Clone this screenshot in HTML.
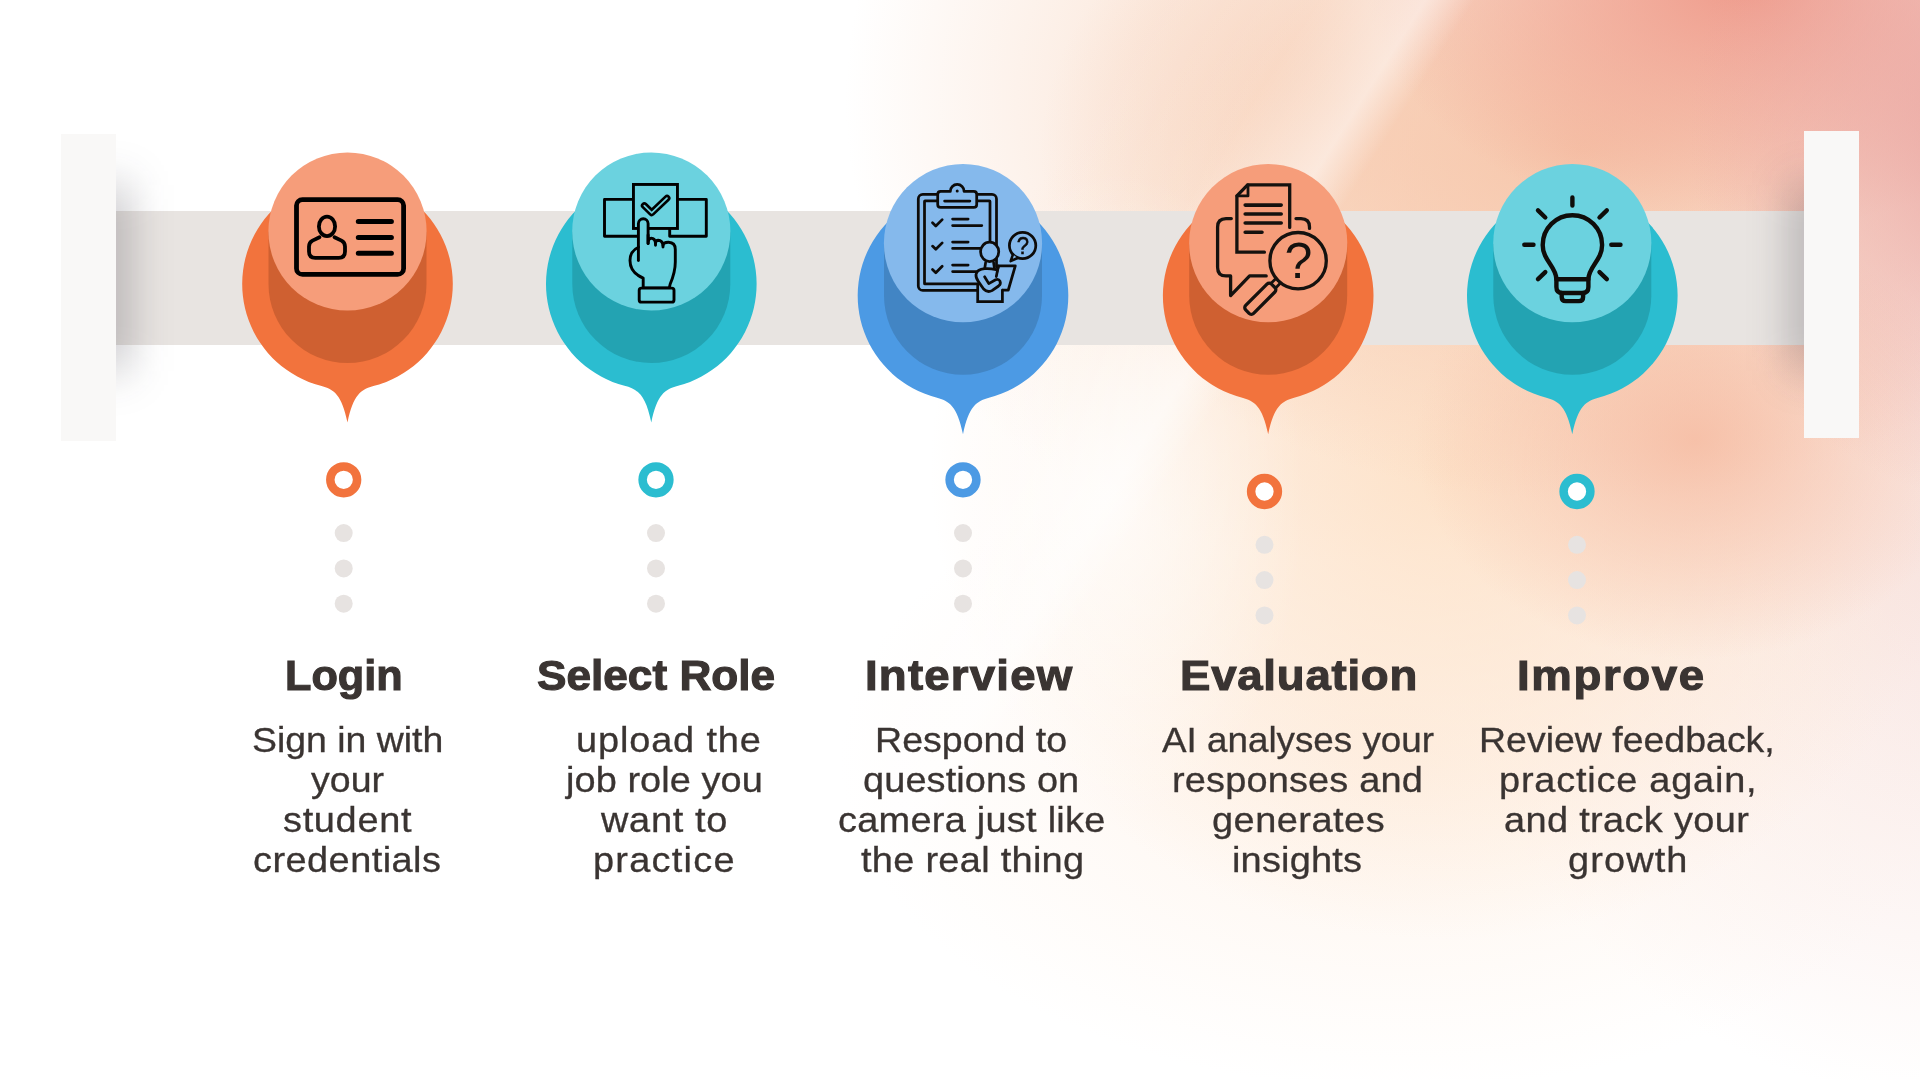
<!DOCTYPE html>
<html lang="en">
<head>
<meta charset="utf-8">
<title>How it works</title>
<style>
html,body{margin:0;padding:0;background:#fff;}
body{width:1920px;height:1080px;overflow:hidden;position:relative;font-family:"Liberation Sans",sans-serif;}
#stage{position:absolute;left:0;top:0;width:1920px;height:1080px;overflow:hidden;background:#fff;}
.bg{position:absolute;left:0;top:0;width:1920px;height:1080px;}
.band{position:absolute;left:116px;top:211px;width:1688px;height:133.5px;background:#e8e4e1;}
.shadow{position:absolute;width:34px;height:186px;top:85px;background:rgba(36,32,44,.31);filter:blur(22px);}
.clip{position:absolute;left:116px;top:100px;width:1688px;height:400px;overflow:hidden;}
.bar{position:absolute;width:55px;background:#f9f8f7;}
svg.art{position:absolute;left:0;top:0;width:1920px;height:1080px;overflow:visible;will-change:transform;}
.t{position:absolute;height:60px;line-height:60px;white-space:nowrap;color:#3a3432;transform-origin:0 50%;margin:0;}
.h{font-size:42.2px;font-weight:700;-webkit-text-stroke:1.1px #3a3432;}
.b{font-size:34.5px;font-weight:400;-webkit-text-stroke:0.3px #3a3432;}
</style>
</head>
<body>
<div id="stage">
<div class="bg" style="background:
linear-gradient(122.6deg, rgba(255,255,255,0) 44%, rgba(255,255,255,.10) 50.5%, rgba(255,255,255,.5) 54.6%, rgba(255,255,255,0) 56.5%),
radial-gradient(ellipse 190px 330px at 1115px 500px, rgba(255,255,255,.62), rgba(255,255,255,0) 100%),
radial-gradient(ellipse 300px 370px at 1990px 130px, rgba(234,165,160,.95), rgba(234,165,160,0) 100%),
radial-gradient(ellipse 380px 250px at 1745px -20px, rgba(238,150,134,.95), rgba(238,150,134,0) 100%),
radial-gradient(ellipse 280px 220px at 1695px 440px, rgba(245,184,158,.8), rgba(245,184,158,0) 100%),
radial-gradient(ellipse 540px 350px at 1580px 150px, rgba(246,196,168,.95), rgba(246,196,168,0) 100%),
radial-gradient(ellipse 520px 470px at 1450px 470px, rgba(253,223,195,.88), rgba(253,223,195,0) 100%),
radial-gradient(ellipse 490px 460px at 1335px 100px, rgba(249,218,198,1), rgba(249,218,198,0) 100%),
radial-gradient(ellipse 560px 330px at 1400px 760px, rgba(254,242,232,.85), rgba(254,242,232,0) 100%),
radial-gradient(ellipse 520px 560px at 1950px 540px, rgba(248,226,222,.95), rgba(248,226,222,0) 100%),
#fff"></div>

<div class="band"></div>
<div class="clip"><div class="shadow" style="left:-24px"></div><div class="shadow" style="left:1678px"></div></div>
<div class="bar" style="left:61px;top:134px;height:307px"></div>
<div class="bar" style="left:1803.7px;top:130.7px;height:307px"></div>
<svg class="art" viewBox="0 0 1920 1080">
<g transform="translate(347.5 284.0)"><path fill="#f2733d" d="M-26.75,101.85 A105.3,105.3 0 1 1 26.75,101.85 C13.5,105.3 5.8,110.5 0,138.6 C-5.8,110.5 -13.5,105.3 -26.75,101.85Z"/><path fill="#cf6031" d="M-79,-52.5 L-79,0 A79,79 0 0 0 79,0 L79,-52.5Z"/><circle cx="0" cy="-52.5" r="79.1" fill="#f69d7a"/></g>
<g transform="translate(651.3 284.0)"><path fill="#2bbdd0" d="M-26.75,101.85 A105.3,105.3 0 1 1 26.75,101.85 C13.5,105.3 5.8,110.5 0,138.6 C-5.8,110.5 -13.5,105.3 -26.75,101.85Z"/><path fill="#23a3b2" d="M-79,-52.5 L-79,0 A79,79 0 0 0 79,0 L79,-52.5Z"/><circle cx="0" cy="-52.5" r="79.1" fill="#6bd2df"/></g>
<g transform="translate(963.0 295.7)"><path fill="#4c9ae4" d="M-26.75,101.85 A105.3,105.3 0 1 1 26.75,101.85 C13.5,105.3 5.8,110.5 0,138.6 C-5.8,110.5 -13.5,105.3 -26.75,101.85Z"/><path fill="#4285c4" d="M-79,-52.5 L-79,0 A79,79 0 0 0 79,0 L79,-52.5Z"/><circle cx="0" cy="-52.5" r="79.1" fill="#85b9ec"/></g>
<g transform="translate(1268.2 295.7)"><path fill="#f2733d" d="M-26.75,101.85 A105.3,105.3 0 1 1 26.75,101.85 C13.5,105.3 5.8,110.5 0,138.6 C-5.8,110.5 -13.5,105.3 -26.75,101.85Z"/><path fill="#cf6031" d="M-79,-52.5 L-79,0 A79,79 0 0 0 79,0 L79,-52.5Z"/><circle cx="0" cy="-52.5" r="79.1" fill="#f69d7a"/></g>
<g transform="translate(1572.3 295.7)"><path fill="#2bbdd0" d="M-26.75,101.85 A105.3,105.3 0 1 1 26.75,101.85 C13.5,105.3 5.8,110.5 0,138.6 C-5.8,110.5 -13.5,105.3 -26.75,101.85Z"/><path fill="#23a3b2" d="M-79,-52.5 L-79,0 A79,79 0 0 0 79,0 L79,-52.5Z"/><circle cx="0" cy="-52.5" r="79.1" fill="#6bd2df"/></g>
<circle cx="343.7" cy="479.8" r="13.4" fill="#fff" stroke="#f2733d" stroke-width="8.5"/>
<circle cx="343.7" cy="533.1" r="9" fill="#e7e3e1"/>
<circle cx="343.7" cy="568.4" r="9" fill="#e7e3e1"/>
<circle cx="343.7" cy="603.7" r="9" fill="#e7e3e1"/>
<circle cx="656.0" cy="479.8" r="13.4" fill="#fff" stroke="#2bbdd0" stroke-width="8.5"/>
<circle cx="656.0" cy="533.1" r="9" fill="#e7e3e1"/>
<circle cx="656.0" cy="568.4" r="9" fill="#e7e3e1"/>
<circle cx="656.0" cy="603.7" r="9" fill="#e7e3e1"/>
<circle cx="963.0" cy="479.8" r="13.4" fill="#fff" stroke="#4c9ae4" stroke-width="8.5"/>
<circle cx="963.0" cy="533.1" r="9" fill="#e7e3e1"/>
<circle cx="963.0" cy="568.4" r="9" fill="#e7e3e1"/>
<circle cx="963.0" cy="603.7" r="9" fill="#e7e3e1"/>
<circle cx="1264.5" cy="491.5" r="13.4" fill="#fff" stroke="#f2733d" stroke-width="8.5"/>
<circle cx="1264.5" cy="544.8" r="9" fill="#e7e3e1"/>
<circle cx="1264.5" cy="580.1" r="9" fill="#e7e3e1"/>
<circle cx="1264.5" cy="615.4" r="9" fill="#e7e3e1"/>
<circle cx="1577.0" cy="491.5" r="13.4" fill="#fff" stroke="#2bbdd0" stroke-width="8.5"/>
<circle cx="1577.0" cy="544.8" r="9" fill="#e7e3e1"/>
<circle cx="1577.0" cy="580.1" r="9" fill="#e7e3e1"/>
<circle cx="1577.0" cy="615.4" r="9" fill="#e7e3e1"/>
<!-- icon 1: id card -->
<g fill="none" stroke="#000" stroke-linecap="round" stroke-linejoin="round">
<rect x="296.5" y="199.6" width="107.1" height="74.8" rx="6" stroke-width="4.8"/>
<ellipse cx="327" cy="226.4" rx="8.1" ry="9.7" stroke-width="3.8"/>
<path stroke-width="3.8" d="M319.5,237.2 L312.5,240.6 Q309,242.4 309,246.6 L309,251.6 Q309,257.9 315.3,257.9 L338.7,257.9 Q345,257.9 345,251.6 L345,246.6 Q345,242.4 341.5,240.6 L334.5,237.2"/>
<path stroke-width="5" d="M358.3,221.5 H391.4 M358.3,237.4 H391.4 M358.3,253.3 H391.4"/>
</g>
<!-- icon 2: select / tap -->
<g fill="none" stroke="#000" stroke-width="2.9" stroke-linejoin="round" stroke-linecap="round">
<path d="M633.4,199.4 H604.5 V236.2 H638"/>
<path d="M677.5,199.4 H706.3 V236.2 H669.7 V229"/>
<rect x="633.45" y="184.45" width="44" height="44" fill="#6bd2df" stroke-linejoin="miter"/>
<path stroke-width="7" d="M644.3,205.6 L651.7,212.8 L667,198.2"/>
<path stroke="#6bd2df" stroke-width="1.7" d="M644.3,205.6 L651.7,212.8 L667,198.2"/>
<path fill="#6bd2df" d="M638.4,247.2 Q630,251 630,260.5 Q630,272.5 643.2,278.2 L643.2,288 L669.2,288 L670.2,284 Q675.3,272 675.3,262 L675.3,249.5 Q675.3,242.5 668.5,242.3 Q663.6,242.2 663,245.2 Q662.4,240.4 658.2,240.2 Q655.6,240.2 655.5,243.2 Q655,238.2 651.3,238.2 Q648.1,238.2 648.1,243.5 L648.1,223.6 A4.85,4.85 0 0 0 638.4,223.6 Z"/>
<path d="M638.4,260.6 V247"/>
<path d="M648.1,243.5 V235"/>
<path d="M655.5,243.2 V245.2 M663,245.2 V247"/>
<rect x="639.2" y="288.1" width="34.8" height="14" rx="2.2" fill="#6bd2df"/>
</g>
<!-- icon 3: checklist + interviewer -->
<g fill="none" stroke="#0d0b09" stroke-width="2.75" stroke-linejoin="round" stroke-linecap="round">
<rect x="918.3" y="194.4" width="78.2" height="96" rx="4.5"/>
<rect x="924.5" y="200.9" width="65.5" height="83" rx="0.5"/>
<path fill="#85b9ec" d="M940.7,191.4 H950.3 A6.9,6.9 0 0 1 964.1,191.4 H973.7 Q976.7,191.4 976.7,194.4 V204.4 Q976.7,207.4 973.7,207.4 H940.7 Q937.7,207.4 937.7,204.4 V194.4 Q937.7,191.4 940.7,191.4Z"/>
<circle cx="957.2" cy="191" r="0.9" fill="#0d0b09" stroke-width="1.2"/>
<path d="M944.6,201.1 H969.9"/>
<path d="M932.5,222.8 L935.8,226 L942.2,219.6 M932.5,246.1 L935.8,249.3 L942.2,242.9 M932.5,269.5 L935.8,272.7 L942.2,266.3"/>
<path d="M952.6,219 H968.1 M952.6,225.5 H981.8 M952.6,242 H968.1 M952.6,248.4 H981 M952.6,265 H968.1 M952.6,271.5 H978"/>
<path fill="#85b9ec" d="M998.6,265.8 H1015.3 L1008.3,290 H996 L995.4,277Z"/>
<path fill="#85b9ec" stroke="none" d="M977.7,276 H1002.3 V302 H977.7Z"/>
<path stroke-linejoin="miter" d="M977.7,284 V301.7 H1002.4 V290"/>
<path fill="#85b9ec" stroke="none" d="M985.6,259 H993.8 L995.2,267.5 L997.6,269.5 L996,278 L989,286 L981,278 L984,267Z"/>
<path d="M985.6,262.6 L984.7,268.6 M993.6,262.6 L994.5,268.6"/>
<path fill="#85b9ec" d="M996.2,269.6 Q990,268.2 984.7,268.6 Q977,269.2 976,274.4 Q975.6,277.6 978.4,281.6 L983.6,289 Q987.4,293 992,290.6 L998.6,286 Q1001.2,284 1000,281.2 Q998.6,278.6 995.6,279.8 L988.8,283.6 L984.6,276.8"/>
<path d="M998.4,266 L996.3,276.6"/>
<ellipse cx="989.65" cy="251.8" rx="9.1" ry="9.7" fill="#85b9ec"/>
<circle cx="1022.6" cy="245.5" r="13.2"/>
<path fill="#85b9ec" stroke-width="2.5" d="M1013,254.4 L1010.6,261.2 L1017.6,258"/>
</g>
<text transform="translate(1022.8 254.1) scale(.9 1)" text-anchor="middle" font-family="'Liberation Sans',sans-serif" font-weight="400" font-size="24.5" fill="#0d0b09" stroke="#0d0b09" stroke-width=".5">?</text>
<!-- icon 4: document + magnifier -->
<g fill="none" stroke="#15120f" stroke-width="3.3" stroke-linejoin="round" stroke-linecap="round">
<path d="M1231.3,218.6 H1226 Q1217.6,218.6 1217.6,227 V267.4 Q1217.6,275.9 1226,275.9 H1230.6 V295.6 L1249.6,275.9 H1266.2"/>
<path d="M1296,218.6 H1301 Q1309.5,218.6 1309.5,227 V228.4"/>
<path fill="#f69d7a" stroke-linejoin="miter" d="M1264.4,252.2 H1236.9 V195.9 L1247.6,184.8 H1289.7 V227.4"/>
<path stroke-width="2.8" d="M1236.9,195.9 H1248 V184.8"/>
<path stroke-width="3.6" d="M1245.2,205.1 H1281.2 M1245.2,214 H1281.2 M1245.2,223 H1281.2 M1245.2,232.2 H1262"/>
<circle cx="1298.1" cy="260.7" r="28.2" fill="#f69d7a"/>
<path stroke-width="2.8" d="M1275.4,279 L1270.6,283.8 M1280,283.6 L1275.2,288.4"/>
<rect x="-5.6" y="0" width="11.2" height="36.5" rx="3.2" transform="translate(1273.2 285.8) rotate(45)" fill="#f69d7a"/>
</g>
<text x="1298.4" y="277.6" text-anchor="middle" font-family="'Liberation Sans',sans-serif" font-weight="400" font-size="50" fill="#15120f">?</text>
<!-- icon 5: bulb -->
<g fill="none" stroke="#0f0d0a" stroke-width="4.4" stroke-linejoin="round" stroke-linecap="round">
<path d="M1556.4,279.2 C1556.4,266.5 1542.7,260.5 1542.7,244.9 A29.7,29.7 0 0 1 1602.1,244.9 C1602.1,260.5 1588.4,266.5 1588.4,279.2"/>
<path d="M1556.4,279.2 H1588.4 M1556.4,279.2 V287 Q1556.4,293 1562.4,293 H1582.4 Q1588.4,293 1588.4,287 V279.2"/>
<path d="M1561.7,293 V297 Q1561.7,301.1 1565.8,301.1 H1579 Q1583.1,301.1 1583.1,297 V293"/>
<path d="M1572.4,197.4 V205.6 M1524.3,244.8 H1533.5 M1611.3,244.8 H1620.5 M1538,210.4 L1545.3,217.5 M1606.8,210.4 L1599.5,217.5 M1538,279.2 L1545.3,272.1 M1606.8,279.2 L1599.5,272.1"/>
</g>

</svg>
<div class="t h" style="left:284.95px;top:645.50px;transform:scaleX(1.0243)">Login</div>
<div class="t b" style="left:251.63px;top:709.60px;transform:scaleX(1.0843)">Sign in with</div>
<div class="t b" style="left:311.10px;top:749.60px;transform:scaleX(1.0881)">your</div>
<div class="t b" style="left:283.30px;top:789.60px;transform:scaleX(1.1000);letter-spacing:0.606px">student</div>
<div class="t b" style="left:253.30px;top:829.60px;transform:scaleX(1.1000);letter-spacing:0.400px">credentials</div>
<div class="t h" style="left:536.75px;top:645.50px;transform:scaleX(1.0469)">Select Role</div>
<div class="t b" style="left:576.00px;top:709.60px;transform:scaleX(1.1000);letter-spacing:0.768px">upload the</div>
<div class="t b" style="left:566.20px;top:749.60px;transform:scaleX(1.1000);letter-spacing:0.050px">job role you</div>
<div class="t b" style="left:601.10px;top:789.60px;transform:scaleX(1.1000);letter-spacing:0.621px">want to</div>
<div class="t b" style="left:593.40px;top:829.60px;transform:scaleX(1.1000);letter-spacing:1.117px">practice</div>
<div class="t h" style="left:864.54px;top:645.50px;transform:scaleX(1.0800);letter-spacing:1.113px">Interview</div>
<div class="t b" style="left:874.53px;top:709.60px;transform:scaleX(1.0890)">Respond to</div>
<div class="t b" style="left:862.90px;top:749.60px;transform:scaleX(1.1000);letter-spacing:0.083px">questions on</div>
<div class="t b" style="left:837.80px;top:789.60px;transform:scaleX(1.1000);letter-spacing:0.224px">camera just like</div>
<div class="t b" style="left:860.70px;top:829.60px;transform:scaleX(1.1000);letter-spacing:0.259px">the real thing</div>
<div class="t h" style="left:1179.64px;top:645.50px;transform:scaleX(1.0800);letter-spacing:0.708px">Evaluation</div>
<div class="t b" style="left:1161.80px;top:709.60px;transform:scaleX(1.0667)">AI analyses your</div>
<div class="t b" style="left:1172.20px;top:749.60px;transform:scaleX(1.1000);letter-spacing:0.136px">responses and</div>
<div class="t b" style="left:1211.60px;top:789.60px;transform:scaleX(1.1000);letter-spacing:0.443px">generates</div>
<div class="t b" style="left:1232.20px;top:829.60px;transform:scaleX(1.1000);letter-spacing:0.169px">insights</div>
<div class="t h" style="left:1516.74px;top:645.50px;transform:scaleX(1.0800);letter-spacing:1.531px">Improve</div>
<div class="t b" style="left:1478.94px;top:709.60px;transform:scaleX(1.0861)">Review feedback,</div>
<div class="t b" style="left:1499.40px;top:749.60px;transform:scaleX(1.1000);letter-spacing:0.701px">practice again,</div>
<div class="t b" style="left:1504.00px;top:789.60px;transform:scaleX(1.1000);letter-spacing:0.308px">and track your</div>
<div class="t b" style="left:1567.80px;top:829.60px;transform:scaleX(1.1000);letter-spacing:1.000px">growth</div>
</div>
</body>
</html>
